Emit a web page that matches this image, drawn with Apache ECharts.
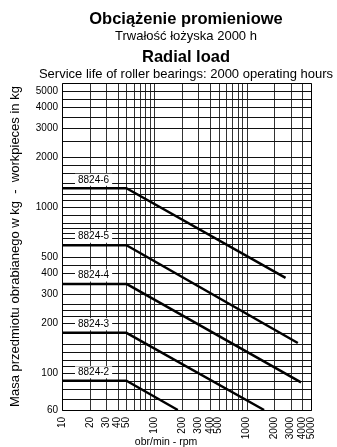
<!DOCTYPE html>
<html>
<head>
<meta charset="utf-8">
<script src="https://cdn.jsdelivr.net/npm/echarts@6/dist/echarts.min.js"></script>
<style>
  html, body { margin: 0; padding: 0; background: #fff; }
  #chart { width: 337px; height: 447px; }
</style>
</head>
<body>
<div id="chart"></div>
<script>
// Axis ranges (rpm on x, workpiece mass in kg on y, both logarithmic).
// The rpm maximum sits a hair above 5000 so the last tick label survives the extent check.
const RPM_MIN = 10, RPM_MAX = 5001;
const MASS_MIN = 60, MASS_MAX = 5600;

// Tick labels
const rpmTicks = [10, 20, 30, 40, 50, 100, 200, 300, 400, 500, 1000, 2000, 3000, 4000, 5000];
const massTicks = [60, 100, 200, 300, 400, 500, 1000, 2000, 3000, 4000, 5000];

// Grid lines
const rpmGrid = [10, 20, 30, 40, 50, 60, 70, 80, 90, 100, 200, 300, 400, 500, 600, 700, 800, 900,
                 1000, 2000, 3000, 4000, 5000];
const massGrid = [60, 70, 80, 90, 100, 110, 120, 135, 150, 175, 200, 220, 240, 260, 300, 350, 400,
                  450, 500, 600, 650, 700, 750, 800, 900, 1000, 1100, 1200, 1300, 1400, 1600, 1800,
                  2000, 2500, 3000, 3500, 4000, 4500, 5000];

// Permissible load curves per chuck size: [rpm, kg]
const bearingNames = ['8824-2', '8824-3', '8824-4', '8824-5', '8824-6'];
const curve8824_2 = [[10, 90], [50, 90], [180, 60]];
const curve8824_3 = [[10, 175], [50, 175], [1550, 60]];
const curve8824_4 = [[10, 345], [50, 345], [3900, 88]];
const curve8824_5 = [[10, 590], [50, 590], [3600, 152]];
const curve8824_6 = [[10, 1300], [50, 1300], [2650, 375]];
const curves = [curve8824_2, curve8824_3, curve8824_4, curve8824_5, curve8824_6];

const FONT = "'Liberation Sans', Arial, Helvetica, sans-serif";
const crisp = v => Math.round(v) + 0.5;

function horizontalGridLine(params, api) {
  const v = api.value(1);
  const a = api.coord([RPM_MIN, v]);
  const b = api.coord([RPM_MAX, v]);
  const y = crisp(a[1]);
  return { type: 'line', shape: { x1: crisp(a[0]), y1: y, x2: crisp(b[0]), y2: y },
           style: { stroke: '#111', lineWidth: 1 } };
}

function verticalGridLine(params, api) {
  const v = api.value(0);
  const a = api.coord([v, MASS_MIN]);
  const b = api.coord([v, MASS_MAX]);
  const x = crisp(a[0]);
  return { type: 'line', shape: { x1: x, y1: crisp(a[1]), x2: x, y2: crisp(b[1]) },
           style: { stroke: '#333', lineWidth: 1 } };
}

function frameRect(params, api) {
  const a = api.coord([RPM_MIN, MASS_MIN]);
  const b = api.coord([RPM_MAX, MASS_MAX]);
  const x = crisp(a[0]), y = crisp(b[1]);
  return { type: 'rect', shape: { x, y, width: crisp(b[0]) - x, height: crisp(a[1]) - y },
           style: { fill: null, stroke: '#000', lineWidth: 1 } };
}

const tickLabel = v => String(Math.round(v));

const rpmLabelStyle = {
  rotate: 90, fontSize: 10, color: '#000', margin: 7, fontFamily: FONT, formatter: tickLabel,
  showMinLabel: true, showMaxLabel: true, hideOverlap: false
};

const curveSeries = curves.map((pts, i) => ({
  type: 'line',
  name: bearingNames[i],
  z: 5,
  silent: true,
  symbol: 'circle',
  symbolSize: 0,
  showSymbol: true,
  lineStyle: { color: '#000', width: 2.5 },
  itemStyle: { color: '#000' },
  label: { show: false },
  data: pts.map((p, j) => j === 0 ? {
    value: p,
    label: {
      show: true,
      formatter: bearingNames[i],
      position: [13, -14.5],
      fontSize: 10,
      fontFamily: FONT,
      color: '#000',
      backgroundColor: '#fff',
      padding: [0, 3],
      lineHeight: 12
    }
  } : { value: p })
}));

const chart = echarts.init(document.getElementById('chart'), null, { renderer: 'canvas' });

chart.setOption({
  animation: false,
  backgroundColor: '#fff',
  textStyle: { fontFamily: FONT },
  grid: { left: 62, top: 83, width: 249, height: 327, containLabel: false },
  graphic: [
    { type: 'text', x: 186, y: 19, style: { text: 'Obciążenie promieniowe', font: 'bold 16.5px ' + FONT,
      fill: '#000', textAlign: 'center', textVerticalAlign: 'middle' } },
    { type: 'text', x: 186, y: 36, style: { text: 'Trwałość łożyska 2000 h', font: '13px ' + FONT,
      fill: '#000', textAlign: 'center', textVerticalAlign: 'middle' } },
    { type: 'text', x: 186, y: 57, style: { text: 'Radial load', font: 'bold 16.5px ' + FONT,
      fill: '#000', textAlign: 'center', textVerticalAlign: 'middle' } },
    { type: 'text', x: 186, y: 74.5, style: { text: 'Service life of roller bearings: 2000 operating hours',
      font: '13px ' + FONT, fill: '#000', textAlign: 'center', textVerticalAlign: 'middle' } },
    { type: 'text', x: 166, y: 442, style: { text: 'obr/min - rpm', font: '10.5px ' + FONT,
      fill: '#000', textAlign: 'center', textVerticalAlign: 'middle' } }
  ],
  xAxis: [
    {
      type: 'log', logBase: 10, min: RPM_MIN, max: RPM_MAX,
      axisLine: { show: false }, axisTick: { show: false },
      splitLine: { show: false }, minorSplitLine: { show: false },
      axisLabel: Object.assign({ customValues: rpmTicks }, rpmLabelStyle)
    },
    {
      // Overlay axis on the same grid: carries the label that sits right next to
      // the last one, which the main axis drops as overlapping.
      type: 'log', logBase: 10, min: RPM_MIN, max: RPM_MAX, position: 'bottom',
      axisLine: { show: false }, axisTick: { show: false },
      splitLine: { show: false }, minorSplitLine: { show: false },
      axisLabel: Object.assign({ customValues: rpmTicks.filter(v => v > 3000 && v < 5000) }, rpmLabelStyle)
    }
  ],
  yAxis: {
    type: 'log', logBase: 10, min: MASS_MIN, max: MASS_MAX,
    axisLine: { show: false }, axisTick: { show: false },
    splitLine: { show: false }, minorSplitLine: { show: false },
    axisLabel: { customValues: massTicks, fontSize: 10, color: '#000', margin: 4,
                 fontFamily: FONT, formatter: tickLabel,
                 showMinLabel: true, showMaxLabel: true, hideOverlap: false },
    name: 'Masa przedmiotu obrabianego w kg  -  workpieces in kg',
    nameLocation: 'middle', nameRotate: 90, nameGap: 40,
    nameTextStyle: { fontSize: 13, color: '#000', fontFamily: FONT }
  },
  series: [
    { type: 'custom', name: 'rpm grid', z: 1, silent: true, renderItem: verticalGridLine,
      data: rpmGrid.map(v => [v, MASS_MIN]) },
    { type: 'custom', name: 'mass grid', z: 2, silent: true, renderItem: horizontalGridLine,
      data: massGrid.map(v => [RPM_MIN, v]) },
    { type: 'custom', name: 'frame', z: 3, silent: true, renderItem: frameRect,
      data: [[RPM_MIN, MASS_MIN]] },
    ...curveSeries
  ]
});
</script>
</body>
</html>
